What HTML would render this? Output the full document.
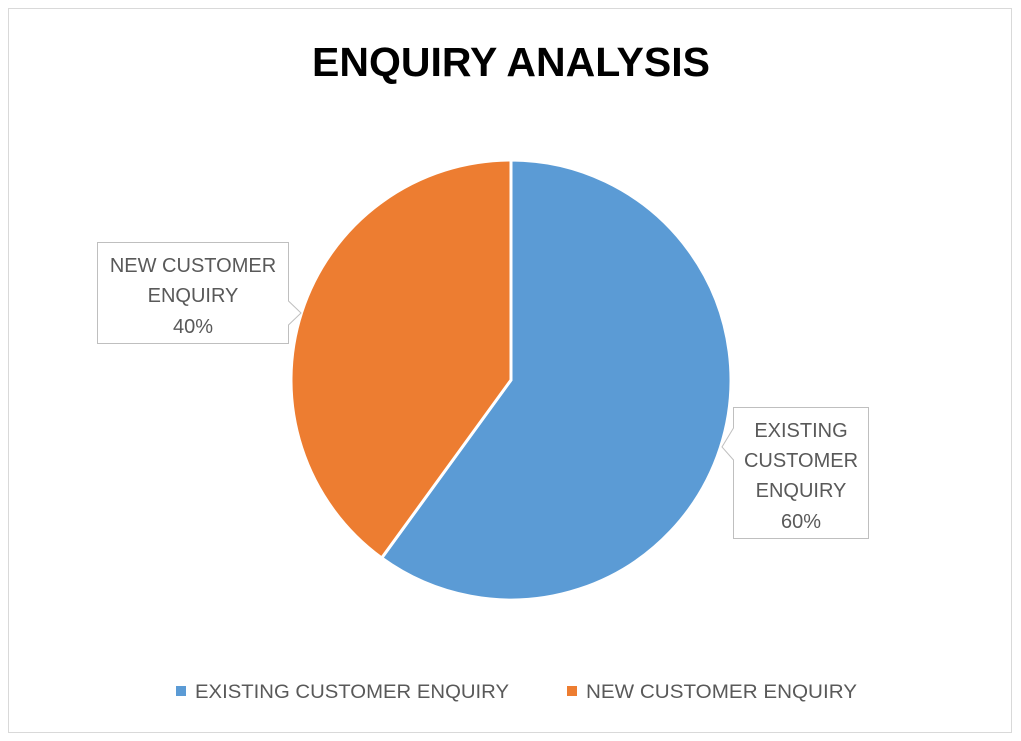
<!DOCTYPE html>
<html><head><meta charset="utf-8"><style>
html,body{margin:0;padding:0;background:#fff;}
svg{display:block;font-family:"Liberation Sans",sans-serif;}
</style></head><body>
<svg width="1021" height="741" viewBox="0 0 1021 741">
<rect x="8.5" y="8.5" width="1003" height="724" fill="#fff" stroke="#d9d9d9"/>
<text x="511" y="76" text-anchor="middle" font-size="41" font-weight="bold" fill="#000">ENQUIRY ANALYSIS</text>
<path d="M511,380 L511,160 A220,220 0 1,1 381.7,558 Z" fill="#5b9bd5" stroke="#fff" stroke-width="3"/>
<path d="M511,380 L381.7,558 A220,220 0 0,1 511,160 Z" fill="#ed7d31" stroke="#fff" stroke-width="3"/>
<path d="M97.5,242.5 H288.5 V301 L301,313 L288.5,325 V343.5 H97.5 Z" fill="#fff" stroke="#bfbfbf"/>
<g font-size="20" fill="#595959" text-anchor="middle">
<text x="193" y="272">NEW CUSTOMER</text>
<text x="193" y="302">ENQUIRY</text>
<text x="193" y="333">40%</text>
</g>
<path d="M733.5,407.5 H868.5 V538.5 H733.5 V460 L722,447 L733.5,428 Z" fill="#fff" stroke="#bfbfbf"/>
<g font-size="20" fill="#595959" text-anchor="middle">
<text x="801" y="437">EXISTING</text>
<text x="801" y="467">CUSTOMER</text>
<text x="801" y="497">ENQUIRY</text>
<text x="801" y="528">60%</text>
</g>
<rect x="176" y="686" width="10" height="10" fill="#5b9bd5"/>
<text x="195" y="698" font-size="19" fill="#595959" textLength="314" lengthAdjust="spacingAndGlyphs">EXISTING CUSTOMER ENQUIRY</text>
<rect x="567" y="686" width="10" height="10" fill="#ed7d31"/>
<text x="586" y="698" font-size="19" fill="#595959" textLength="271" lengthAdjust="spacingAndGlyphs">NEW CUSTOMER ENQUIRY</text>
</svg>
</body></html>
